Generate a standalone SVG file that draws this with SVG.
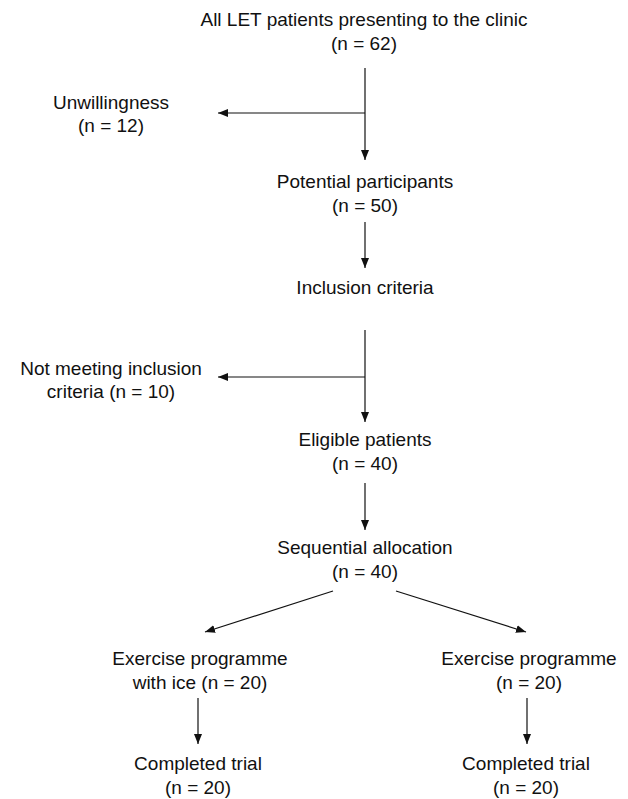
<svg xmlns="http://www.w3.org/2000/svg" width="628" height="799" viewBox="0 0 628 799">
<style>
text{font-family:"Liberation Sans",Arial,sans-serif;font-size:19px;fill:#111;text-anchor:middle}
.c{stroke:#111;stroke-width:1.2;fill:none}
</style>
<defs>
<marker id="ah" viewBox="0 0 10 8" refX="10" refY="4" markerWidth="10" markerHeight="8" markerUnits="userSpaceOnUse" orient="auto">
<path d="M0,0 L10,4 L0,8 z" fill="#111"/>
</marker>
</defs>
<rect width="628" height="799" fill="#fff"/>
<g id="n-all"><text x="364" y="26">All LET patients presenting to the clinic</text><text x="364" y="50">(n = 62)</text></g>
<g id="n-unwilling"><text x="111" y="109">Unwillingness</text><text x="111" y="132">(n = 12)</text></g>
<g id="n-potential"><text x="365" y="188">Potential participants</text><text x="365" y="212">(n = 50)</text></g>
<g id="n-inclusion"><text x="365" y="294">Inclusion criteria</text></g>
<g id="n-notmeeting"><text x="111" y="375">Not meeting inclusion</text><text x="111" y="398">criteria (n = 10)</text></g>
<g id="n-eligible"><text x="365" y="446">Eligible patients</text><text x="365" y="470">(n = 40)</text></g>
<g id="n-sequential"><text x="365" y="554">Sequential allocation</text><text x="365" y="578">(n = 40)</text></g>
<g id="n-ice"><text x="200" y="665">Exercise programme</text><text x="200" y="689">with ice (n = 20)</text></g>
<g id="n-noice"><text x="529" y="665">Exercise programme</text><text x="529" y="689">(n = 20)</text></g>
<g id="n-done1"><text x="198" y="770">Completed trial</text><text x="198" y="794">(n = 20)</text></g>
<g id="n-done2"><text x="526" y="770">Completed trial</text><text x="526" y="794">(n = 20)</text></g>
<g id="connectors">
<line class="c" x1="365" y1="68" x2="365" y2="160" marker-end="url(#ah)"/>
<line class="c" x1="365" y1="113" x2="218" y2="113" marker-end="url(#ah)"/>
<line class="c" x1="365" y1="222" x2="365" y2="268" marker-end="url(#ah)"/>
<line class="c" x1="365" y1="330" x2="365" y2="422" marker-end="url(#ah)"/>
<line class="c" x1="365" y1="377" x2="218" y2="377" marker-end="url(#ah)"/>
<line class="c" x1="365" y1="483" x2="365" y2="530" marker-end="url(#ah)"/>
<line class="c" x1="333" y1="591" x2="205" y2="632" marker-end="url(#ah)"/>
<line class="c" x1="396" y1="591" x2="526" y2="632" marker-end="url(#ah)"/>
<line class="c" x1="198" y1="698" x2="198" y2="744" marker-end="url(#ah)"/>
<line class="c" x1="527" y1="698" x2="527" y2="744" marker-end="url(#ah)"/>
</g>
</svg>
